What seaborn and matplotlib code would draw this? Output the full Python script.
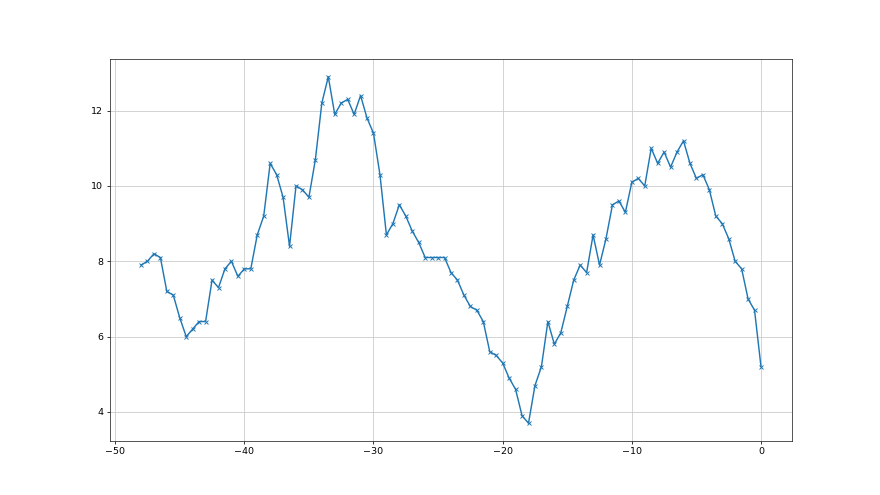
import matplotlib
matplotlib.use("Agg")
import matplotlib.pyplot as plt
import numpy as np
import pandas as pd
import seaborn as sns

# valores (x de -48 a 0, passo 0.5)
x = np.arange(-48, 0.01, 0.5)
y = [7.9, 8.0, 8.2, 8.1, 7.2, 7.1, 6.5, 6.0, 6.2, 6.4,
     6.4, 7.5, 7.3, 7.8, 8.0, 7.6, 7.8, 7.8, 8.7, 9.2,
     10.6, 10.3, 9.7, 8.4, 10.0, 9.9, 9.7, 10.7, 12.2, 12.9,
     11.9, 12.2, 12.3, 11.9, 12.4, 11.8, 11.4, 10.3, 8.7, 9.0,
     9.5, 9.2, 8.8, 8.5, 8.1, 8.1, 8.1, 8.1, 7.7, 7.5,
     7.1, 6.8, 6.7, 6.4, 5.6, 5.5, 5.3, 4.9, 4.6, 3.9,
     3.7, 4.7, 5.2, 6.4, 5.8, 6.1, 6.8, 7.5, 7.9, 7.7,
     8.7, 7.9, 8.6, 9.5, 9.6, 9.3, 10.1, 10.2, 10.0, 11.0,
     10.6, 10.9, 10.5, 10.9, 11.2, 10.6, 10.2, 10.3, 9.9, 9.2,
     9.0, 8.6, 8.0, 7.8, 7.0, 6.7, 5.2]

dados = pd.DataFrame({"x": x, "y": y})

sns.set_style("ticks", {"axes.grid": True, "grid.color": ".78"})

fig, ax = plt.subplots(figsize=(12.8, 7.2), dpi=68.75)
sns.lineplot(data=dados, x="x", y="y", marker="x", color="#1f77b4",
             markeredgecolor="#1f77b4", markersize=5, markeredgewidth=1,
             linewidth=1.5, ax=ax)
ax.set_xlabel("")
ax.set_ylabel("")
ax.set_xticks([-50, -40, -30, -20, -10, 0])
ax.set_yticks([4, 6, 8, 10, 12])
ax.tick_params(colors="black")

plt.savefig("out.png", dpi=68.75)
